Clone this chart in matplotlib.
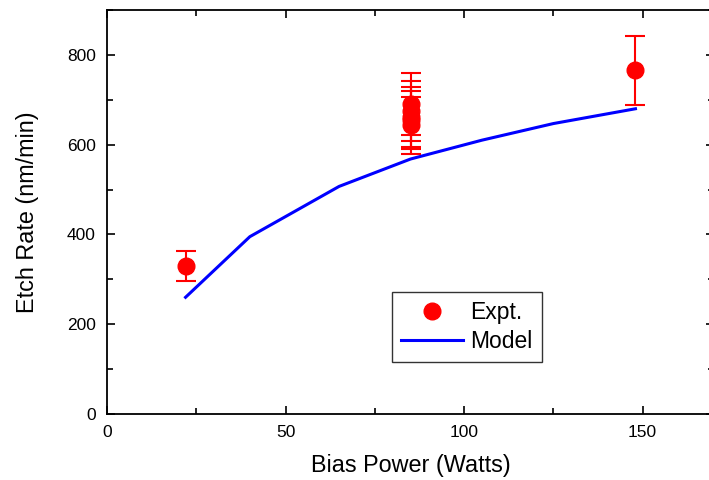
import matplotlib
matplotlib.use("Agg")
import matplotlib.pyplot as plt
from matplotlib.ticker import MultipleLocator
from matplotlib.lines import Line2D

plt.rcParams['font.family'] = ['Liberation Sans', 'DejaVu Sans']

expt_x = [22, 85, 85, 85, 85, 85, 148]
expt_y = [330, 690, 675, 662, 655, 643, 766]
expt_err = [33, 69, 67.5, 66.2, 65.5, 64.3, 76.6]

model_x = [22, 40, 65, 85, 105, 125, 148]
model_y = [260, 395, 507, 568, 610, 647, 680]

fig = plt.figure(figsize=(7.09, 4.80), dpi=100)
ax = fig.add_axes([107/709, 1 - 414/480, (714-107)/709, (414-10)/480])

ax.plot(model_x, model_y, color='#0000ff', lw=2.2, zorder=2)
ax.errorbar(expt_x, expt_y, yerr=expt_err, fmt='o', color='#ff0000', ms=12,
            elinewidth=1.5, capsize=7, capthick=1.5, zorder=3)

ax.set_xlim(0, 170)
ax.set_ylim(0, 900)
ax.xaxis.set_major_locator(MultipleLocator(50))
ax.xaxis.set_minor_locator(MultipleLocator(25))
ax.yaxis.set_major_locator(MultipleLocator(200))
ax.yaxis.set_minor_locator(MultipleLocator(100))
ax.tick_params(which='both', direction='in', top=True, right=True, labelsize=12.5, width=1.2)
ax.tick_params(which='major', length=6, pad=8)
ax.tick_params(which='minor', length=4)
for s in ax.spines.values():
    s.set_linewidth(1.3)

ax.set_xlabel('Bias Power (Watts)', fontsize=16.8, labelpad=10)
ax.set_ylabel('Etch Rate (nm/min)', fontsize=16.8, labelpad=20)

handles = [Line2D([], [], ls='none', marker='o', color='#ff0000', ms=12),
           Line2D([], [], color='#0000ff', lw=2.2)]
leg = ax.legend(handles, ['Expt.', 'Model'], loc='lower left', bbox_to_anchor=(0.47, 0.129),
                fontsize=16.5, frameon=True, fancybox=False, edgecolor='black',
                handlelength=2.7, borderpad=0.4, labelspacing=0.25, handletextpad=0.3,
                borderaxespad=0)
leg.get_frame().set_linewidth(1.0)

fig.savefig('out.png', dpi=100)
